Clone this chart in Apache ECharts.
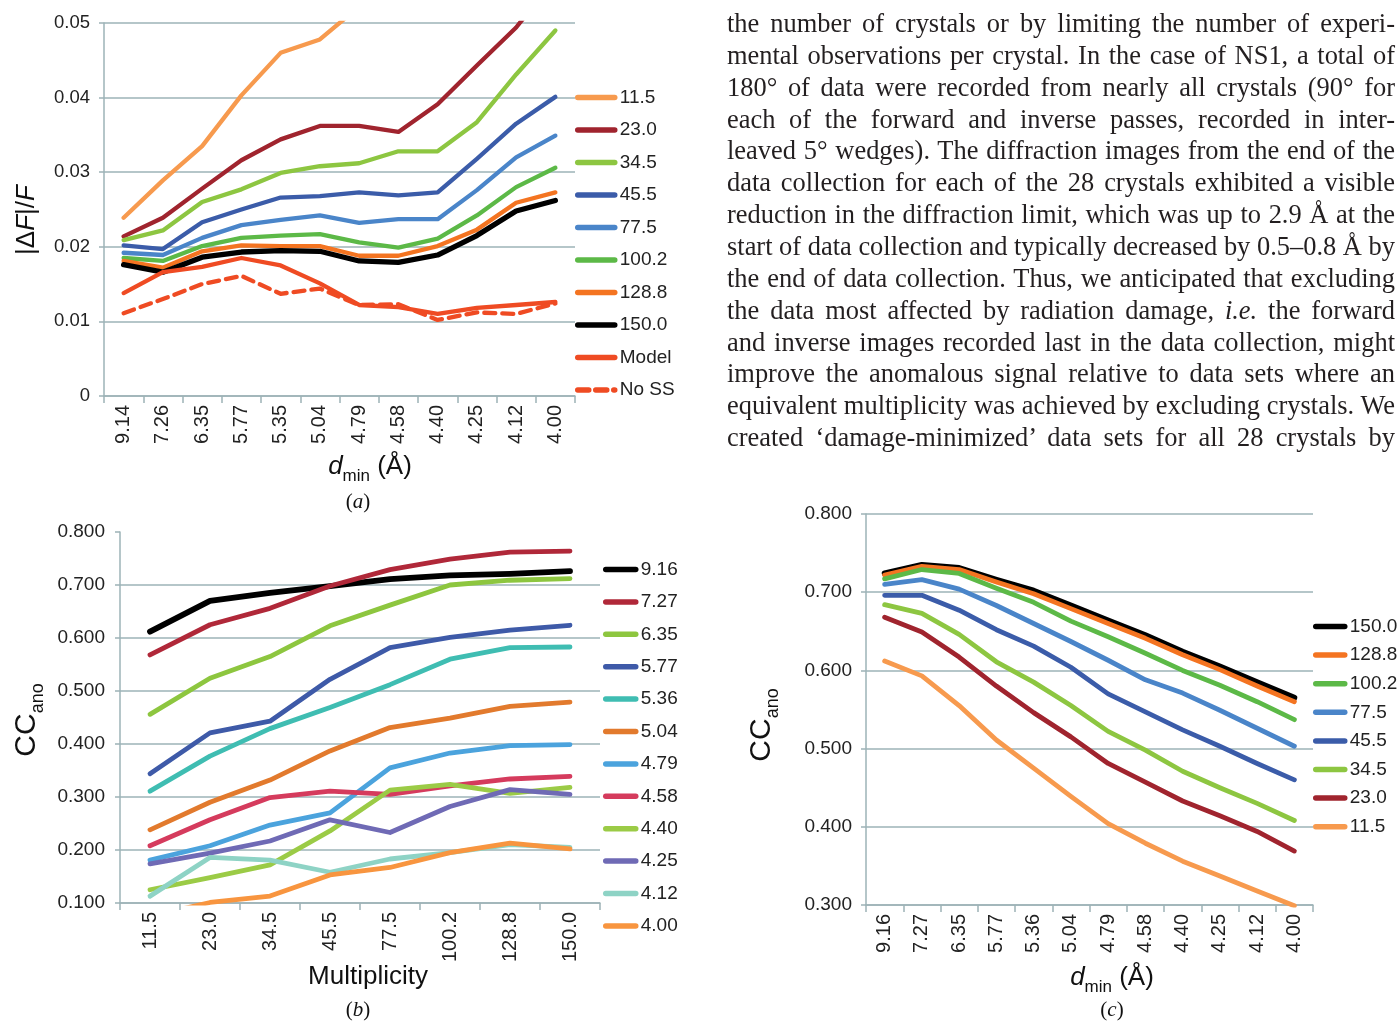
<!DOCTYPE html>
<html><head><meta charset="utf-8">
<script src="https://cdn.jsdelivr.net/npm/echarts@6/dist/echarts.min.js"></script>
<style>
html,body{margin:0;padding:0;background:#fff;overflow:hidden;}
#chart{position:absolute;left:0;top:0;width:1397px;height:1022px;}
#text{position:absolute;left:727px;top:0;width:668px;height:460px;font-family:'Liberation Serif','Times New Roman',serif;color:#231f20;}
.ln{position:absolute;left:0;display:inline-block;white-space:nowrap;font-size:27px;line-height:32px;transform-origin:0 50%;}
</style></head><body>
<div id="chart"></div><div id="text"></div>
<script>
// ---------- DATA ----------
// (a) |ΔF|/F vs d_min, one line per multiplicity
const catA = ['9.14','7.26','6.35','5.77','5.35','5.04','4.79','4.58','4.40','4.25','4.12','4.00'];
const yTicksA = ['0','0.01','0.02','0.03','0.04','0.05'];
const A_11_5  = [0.0239,0.0289,0.0335,0.0403,0.0460,0.0478,0.0522,null,null,null,null,null];
const A_23_0  = [0.0214,0.0239,0.0278,0.0316,0.0344,0.0362,0.0362,0.0354,0.0391,0.0443,0.0494,0.0560];
const A_34_5  = [0.0209,0.0222,0.0260,0.0277,0.0299,0.0308,0.0312,0.0328,0.0328,0.0367,0.0431,0.0490];
const A_45_5  = [0.0202,0.0197,0.0233,0.0250,0.0266,0.0268,0.0273,0.0269,0.0273,0.0318,0.0365,0.0401];
const A_77_5  = [0.0192,0.0189,0.0212,0.0229,0.0236,0.0242,0.0232,0.0237,0.0237,0.0276,0.0320,0.0349];
const A_100_2 = [0.0185,0.0181,0.0201,0.0212,0.0215,0.0217,0.0206,0.0199,0.0211,0.0242,0.0280,0.0306];
const A_128_8 = [0.0181,0.0172,0.0194,0.0202,0.0201,0.0201,0.0188,0.0188,0.0201,0.0223,0.0259,0.0273];
const A_150_0 = [0.0176,0.0166,0.0186,0.0193,0.0195,0.0194,0.0181,0.0179,0.0189,0.0215,0.0248,0.0262];
const A_model = [0.0138,0.0166,0.0173,0.0185,0.0175,0.0151,0.0122,0.0119,0.0110,0.0118,0.0122,0.0126];
const A_noss  = [0.0111,0.0130,0.0150,0.0161,0.0137,0.0144,0.0122,0.0123,0.0102,0.0112,0.0110,0.0124];
const namesA = ['11.5','23.0','34.5','45.5','77.5','100.2','128.8','150.0','Model','No SS'];

// (b) CC_ano vs multiplicity, one line per d_min
const catB = ['11.5','23.0','34.5','45.5','77.5','100.2','128.8','150.0'];
const yTicksB = ['0.100','0.200','0.300','0.400','0.500','0.600','0.700','0.800'];
const B_9_16 = [0.612,0.670,0.685,0.698,0.711,0.718,0.721,0.726];
const B_7_27 = [0.568,0.625,0.656,0.698,0.729,0.749,0.762,0.764];
const B_6_35 = [0.456,0.524,0.565,0.623,0.662,0.700,0.709,0.712];
const B_5_77 = [0.344,0.421,0.443,0.522,0.582,0.601,0.615,0.624];
const B_5_36 = [0.311,0.377,0.429,0.469,0.512,0.560,0.582,0.583];
const B_5_04 = [0.238,0.290,0.332,0.387,0.431,0.449,0.471,0.479];
const B_4_79 = [0.181,0.208,0.247,0.270,0.355,0.383,0.397,0.399];
const B_4_58 = [0.208,0.257,0.299,0.311,0.305,0.321,0.334,0.339];
const B_4_40 = [0.125,0.148,0.172,0.236,0.313,0.324,0.307,0.318];
const B_4_25 = [0.174,0.194,0.217,0.257,0.233,0.282,0.314,0.305];
const B_4_12 = [0.113,0.186,0.181,0.158,0.183,0.195,0.210,0.205];
const B_4_00 = [0.075,0.101,0.113,0.153,0.167,0.195,0.213,0.202];
const namesB = ['9.16','7.27','6.35','5.77','5.36','5.04','4.79','4.58','4.40','4.25','4.12','4.00'];

// (c) CC_ano vs d_min, one line per multiplicity
const catC = ['9.16','7.27','6.35','5.77','5.36','5.04','4.79','4.58','4.40','4.25','4.12','4.00'];
const yTicksC = ['0.300','0.400','0.500','0.600','0.700','0.800'];
const C_150_0 = [0.724,0.735,0.731,0.716,0.702,0.683,0.664,0.645,0.624,0.605,0.585,0.565];
const C_128_8 = [0.722,0.733,0.729,0.713,0.698,0.679,0.660,0.641,0.620,0.601,0.580,0.560];
const C_100_2 = [0.717,0.729,0.724,0.705,0.687,0.663,0.643,0.622,0.600,0.581,0.560,0.537];
const C_77_5  = [0.710,0.716,0.704,0.683,0.660,0.637,0.613,0.588,0.571,0.549,0.526,0.503];
const C_45_5  = [0.696,0.696,0.677,0.652,0.631,0.604,0.570,0.547,0.524,0.503,0.481,0.460];
const C_34_5  = [0.684,0.673,0.646,0.611,0.585,0.555,0.522,0.498,0.471,0.450,0.430,0.408];
const C_23_0  = [0.668,0.649,0.617,0.580,0.546,0.515,0.481,0.457,0.433,0.414,0.394,0.369];
const C_11_5  = [0.612,0.593,0.555,0.511,0.475,0.439,0.404,0.379,0.356,0.337,0.318,0.299];
const namesC = ['150.0','128.8','100.2','77.5','45.5','34.5','23.0','11.5'];

// paragraph text
const paraLines = [
 'the number of crystals or by limiting the number of experi-',
 'mental observations per crystal. In the case of NS1, a total of',
 '180° of data were recorded from nearly all crystals (90° for',
 'each of the forward and inverse passes, recorded in inter-',
 'leaved 5° wedges). The diffraction images from the end of the',
 'data collection for each of the 28 crystals exhibited a visible',
 'reduction in the diffraction limit, which was up to 2.9 Å at the',
 'start of data collection and typically decreased by 0.5–0.8 Å by',
 'the end of data collection. Thus, we anticipated that excluding',
 'the data most affected by radiation damage, <i>i.e.</i> the forward',
 'and inverse images recorded last in the data collection, might',
 'improve the anomalous signal relative to data sets where an',
 'equivalent multiplicity was achieved by excluding crystals. We',
 'created ‘damage-minimized’ data sets for all 28 crystals by'
];

// ---------- STYLE ----------
const FONT = "'Liberation Sans', Arial, sans-serif";
const SERIF = "'Liberation Serif','Times New Roman', serif";
const AX = '#9db3b7';
const colA = {'11.5':'#f79a4e','23.0':'#a0242e','34.5':'#8dc641','45.5':'#3b5ca9','77.5':'#4a85c9','100.2':'#5cb947','128.8':'#f47421','150.0':'#000000','Model':'#ef4b23','No SS':'#ef4b23'};
const colB = {'9.16':'#000000','7.27':'#b02839','6.35':'#8dc63f','5.77':'#3e5aa8','5.36':'#3fbdb2','5.04':'#e27a2d','4.79':'#4ba3dd','4.58':'#d53b5d','4.40':'#9bcb46','4.25':'#6f6ab5','4.12':'#8ed3c5','4.00':'#f8953f'};

const dataA = [A_11_5,A_23_0,A_34_5,A_45_5,A_77_5,A_100_2,A_128_8,A_150_0,A_model,A_noss];
const dataB = [B_9_16,B_7_27,B_6_35,B_5_77,B_5_36,B_5_04,B_4_79,B_4_58,B_4_40,B_4_25,B_4_12,B_4_00];
const dataC = [C_150_0,C_128_8,C_100_2,C_77_5,C_45_5,C_34_5,C_23_0,C_11_5];

function mkSeries(prefix, names, datas, colors, idx, w){
  return names.map((n,i)=>({
    type:'line', name: prefix+'#'+n, xAxisIndex: idx, yAxisIndex: idx,
    data: datas[i], symbol:'none', showSymbol:false, silent:true, connectNulls:false,
    lineStyle:{color: colors[n], width: (n==='150.0'||n==='9.16') ? w+1 : w,
      type: n==='No SS' ? [11,7] : 'solid', cap:'round', join:'round'},
    itemStyle:{color: colors[n]}
  }));
}
const series = [].concat(
  mkSeries('a', namesA, dataA, colA, 0, 4.3),
  mkSeries('b', namesB, dataB, colB, 1, 4.8),
  mkSeries('c', namesC, dataC, colA, 2, 4.8)
);

function xAx(gi, cats){
  return {type:'category', gridIndex: gi, data: cats, boundaryGap:true,
    axisLine:{lineStyle:{color:AX, width:1.5}},
    axisTick:{show:true, length:7, lineStyle:{color:AX, width:1.5}},
    axisLabel:{rotate:90, margin:9, fontSize:20, color:'#222', fontFamily:FONT, interval:0},
    splitLine:{show:false}};
}
function yAx(gi, min, max, step, ticks, margin, showMax, fs){
  return {type:'value', gridIndex: gi, min, max, interval: step,
    axisLine:{show:true, lineStyle:{color:AX, width:1.5}},
    axisTick:{show:true, length:5, lineStyle:{color:AX, width:1.5}},
    axisLabel:{margin, fontSize:fs, color:'#222', fontFamily:FONT,
      formatter: v => ticks[Math.round((v-min)/step)]},
    splitLine:{show:true, showMinLine:true, showMaxLine: showMax, lineStyle:{color:AX, width:1.5}}};
}
function legend(prefix, names, left, top, iw, gap){
  return {orient:'vertical', left, top, padding:0, itemWidth: iw, itemHeight: 14, itemGap: gap,
    data: names.map(n=>prefix+'#'+n), selectedMode:false,
    formatter: n => n.split('#')[1],
    lineStyle:{width:5.5},
    itemStyle:{opacity:0},
    textStyle:{fontSize:19, lineHeight:18, color:'#222', fontFamily:FONT}};
}

function gText(x,y,rich,text,rot){
  return {type:'text', x, y, rotation: rot||0, silent:true,
    style:{text, rich, align:'center', verticalAlign:'middle', fill:'#111'}};
}
const richD = {
  i:{fontSize:26, fontStyle:'italic', fontFamily:FONT, lineHeight:36, verticalAlign:'middle', fill:'#111'},
  s:{fontSize:17, fontFamily:FONT, lineHeight:17, verticalAlign:'bottom', fill:'#111'},
  n:{fontSize:26, fontFamily:FONT, lineHeight:36, verticalAlign:'middle', fill:'#111'}
};
const richCC = {
  n:{fontSize:30, fontFamily:FONT, lineHeight:40, verticalAlign:'middle', fill:'#111'},
  s:{fontSize:18, fontFamily:FONT, lineHeight:18, verticalAlign:'bottom', fill:'#111'}
};
const richF = {
  n:{fontSize:26, fontFamily:FONT, fill:'#111'},
  i:{fontSize:26, fontFamily:FONT, fontStyle:'italic', fill:'#111'}
};
const richCap = {
  p:{fontSize:21, fontFamily:SERIF, fill:'#111'},
  i:{fontSize:21, fontFamily:SERIF, fontStyle:'italic', fill:'#111'}
};

const option = {
  animation:false,
  backgroundColor:'#fff',
  grid:[
    {left:104, top:23, width:471, height:373, containLabel:false, outerBoundsMode:'none'},
    {left:120, top:532, width:480, height:371, containLabel:false, outerBoundsMode:'none'},
    {left:866, top:514, width:447, height:391, containLabel:false, outerBoundsMode:'none'}
  ],
  xAxis:[xAx(0,catA), xAx(1,catB), xAx(2,catC)],
  yAxis:[yAx(0,0,0.05,0.01,yTicksA,14,true,18.5), yAx(1,0.1,0.8,0.1,yTicksB,15,false,19), yAx(2,0.3,0.8,0.1,yTicksC,14,true,19)],
  legend:[
    legend('a', namesA, 575, 88, 37, 13.5),
    legend('b', namesB, 603, 560, 30, 13.4),
    legend('c', namesC, 1313, 617, 29, 9.6)
  ],
  graphic:[
    gText(27, 220, richF, '{n||Δ}{i|F}{n||/}{i|F}', Math.PI/2),
    gText(370, 467, richD, '{i|d}{s|min}{n| (Å)}'),
    gText(358, 502, richCap, '{p|(}{i|a}{p|)}'),
    gText(27, 720, richCC, '{n|CC}{s|ano}', Math.PI/2),
    gText(368, 977, richD, '{n|Multiplicity}'),
    gText(358, 1010, richCap, '{p|(}{i|b}{p|)}'),
    gText(762, 725, richCC, '{n|CC}{s|ano}', Math.PI/2),
    gText(1112, 978, richD, '{i|d}{s|min}{n| (Å)}'),
    gText(1112, 1010, richCap, '{p|(}{i|c}{p|)}')
  ],
  series
};
const chart = echarts.init(document.getElementById('chart'), null, {renderer:'canvas'});
chart.setOption(option);

// paragraph
const box = document.getElementById('text');
const els = paraLines.map((t,i)=>{
  const d = document.createElement('div');
  d.className = 'ln'; d.innerHTML = t;
  d.style.top = (23 + 31.85*i - 16) + 'px';
  box.appendChild(d); return d;
});
const W = 668;
const maxW = Math.max(...els.map(d=>d.getBoundingClientRect().width));
const s = Math.min(1, W/maxW);
els.forEach(d=>{
  d.style.width = (W/s) + 'px';
  d.style.textAlign = 'justify';
  d.style.textAlignLast = 'justify';
  d.style.transform = 'scaleX(' + s + ')';
});
</script>
</body></html>
